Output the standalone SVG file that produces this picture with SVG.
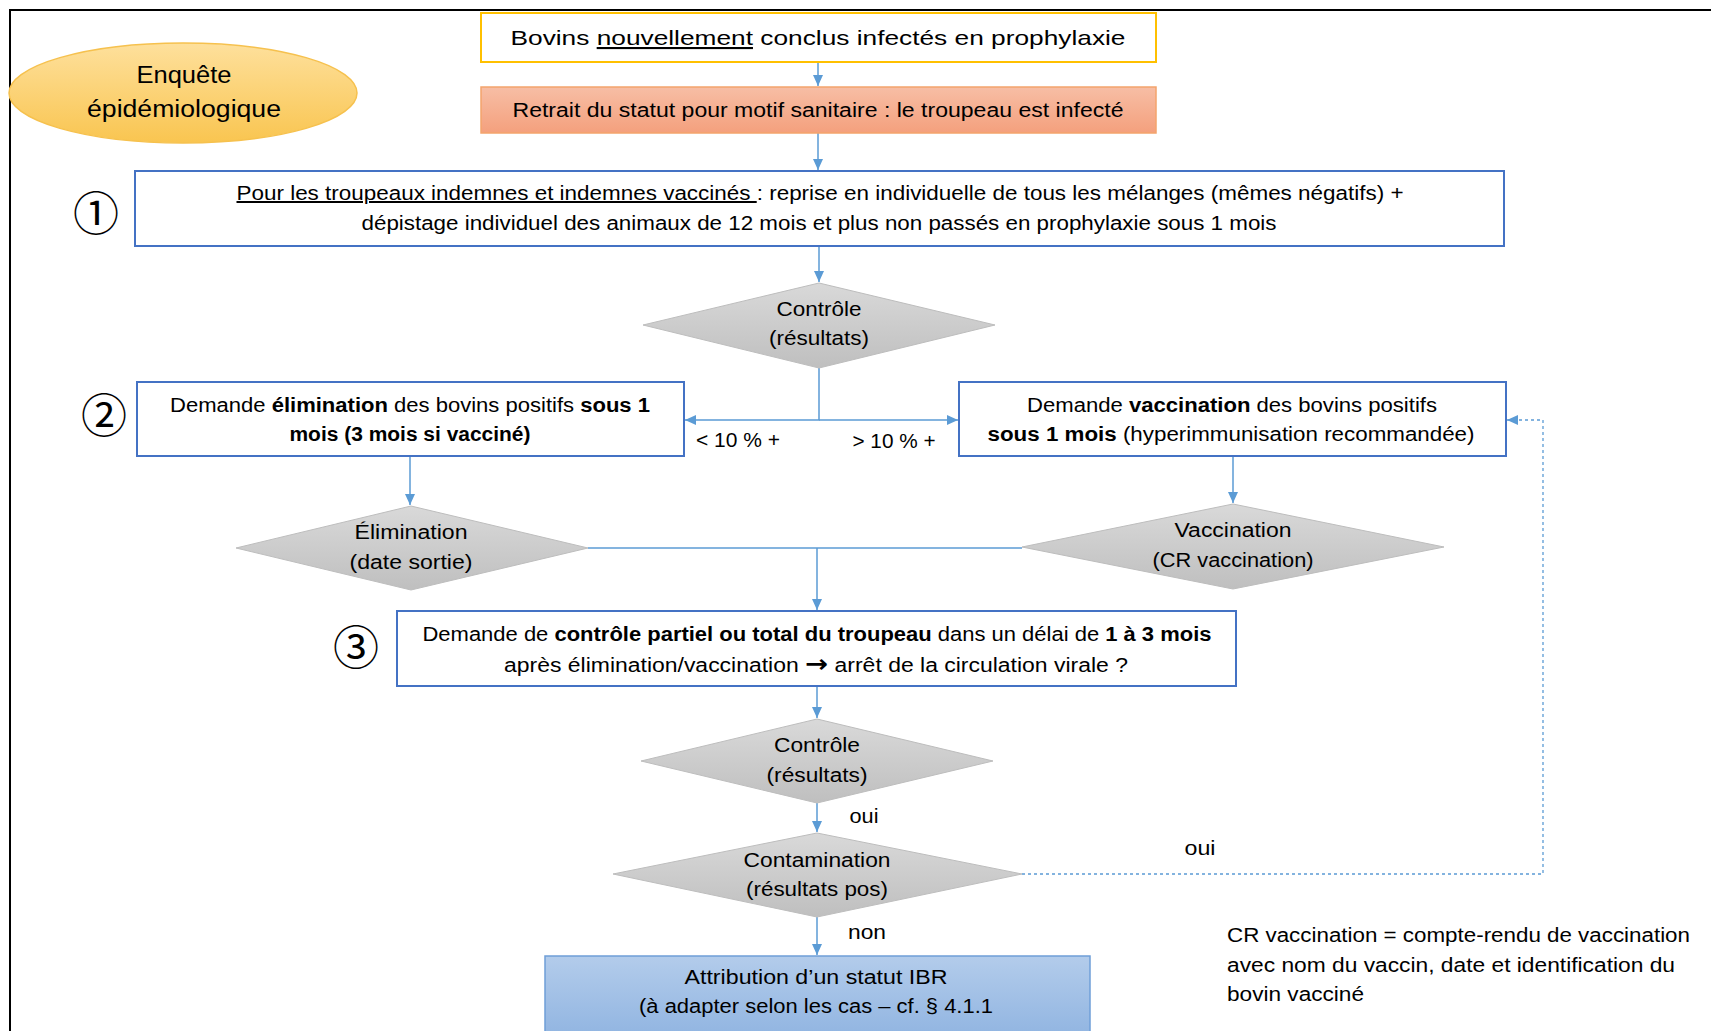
<svg xmlns="http://www.w3.org/2000/svg" width="1711" height="1031" viewBox="0 0 1711 1031">
<defs>
<style>
.t{font-family:"Liberation Sans",Arial,sans-serif;font-size:20px;fill:#000}
.b{font-weight:bold}
.u{text-decoration:underline}
.arw{font-family:"DejaVu Sans",sans-serif;font-weight:bold;font-size:24px}
.num{font-family:"Noto Sans CJK JP","DejaVu Sans",sans-serif;font-size:46px;fill:#000}
.blue{fill:#fff;stroke:#4472C4;stroke-width:2}
.dia{fill:url(#gGray);stroke:#BDBDBD;stroke-width:1}
.con{fill:none;stroke:#5B9BD5;stroke-width:1.5}
.dash{fill:none;stroke:#5B9BD5;stroke-width:1.3;stroke-dasharray:3 3}
</style>
<linearGradient id="gGray" x1="0" y1="0" x2="0" y2="1"><stop offset="0" stop-color="#D9D9D9"/><stop offset="1" stop-color="#BFBFBF"/></linearGradient>
<linearGradient id="gOrange" x1="0" y1="0" x2="0" y2="1"><stop offset="0" stop-color="#F7BEA5"/><stop offset="1" stop-color="#F4A07D"/></linearGradient>
<linearGradient id="gYellow" x1="0" y1="0" x2="0" y2="1"><stop offset="0" stop-color="#FEE09C"/><stop offset="1" stop-color="#F9C550"/></linearGradient>
<linearGradient id="gBlue" x1="0" y1="0" x2="0" y2="1"><stop offset="0" stop-color="#B3CCEB"/><stop offset="1" stop-color="#8DB2E0"/></linearGradient>
<marker id="arr" markerUnits="userSpaceOnUse" markerWidth="12" markerHeight="10" refX="11" refY="5" orient="auto"><path d="M0,0 L11,5 L0,10 z" fill="#5B9BD5"/></marker>
</defs>

<g id="frame"><path d="M10,1031 V10 H1711" fill="none" stroke="#000" stroke-width="2"/></g>

<g id="connectors">
<path class="con" d="M818,62 V86" marker-end="url(#arr)"/>
<path class="con" d="M818,133 V170" marker-end="url(#arr)"/>
<path class="con" d="M819,246 V282" marker-end="url(#arr)"/>
<path class="con" d="M819,368 V420 H685" marker-end="url(#arr)"/>
<path class="con" d="M819,420 H958" marker-end="url(#arr)"/>
<path class="con" d="M410,456 V505" marker-end="url(#arr)"/>
<path class="con" d="M1233,456 V503" marker-end="url(#arr)"/>
<path class="con" d="M588,548 H1022"/>
<path class="con" d="M817,548 V610" marker-end="url(#arr)"/>
<path class="con" d="M817,686 V718" marker-end="url(#arr)"/>
<path class="con" d="M817,803 V832" marker-end="url(#arr)"/>
<path class="con" d="M817,917 V955" marker-end="url(#arr)"/>
<path class="dash" d="M1022,874 H1543 V420 H1507" marker-end="url(#arr)"/>
<text class="t" x="738" y="447" textLength="84" lengthAdjust="spacingAndGlyphs" text-anchor="middle">&lt; 10 % +</text>
<text class="t" x="894" y="448" textLength="83" lengthAdjust="spacingAndGlyphs" text-anchor="middle">&gt; 10 % +</text>
<text class="t" x="864" y="823" textLength="29" lengthAdjust="spacingAndGlyphs" text-anchor="middle">oui</text>
<text class="t" x="1200" y="855" textLength="31" lengthAdjust="spacingAndGlyphs" text-anchor="middle">oui</text>
<text class="t" x="867" y="939" textLength="38" lengthAdjust="spacingAndGlyphs" text-anchor="middle">non</text>
</g>

<g id="enquete">
<ellipse cx="183" cy="93" rx="174" ry="50" fill="url(#gYellow)" stroke="#F6C14E" stroke-width="1.5"/>
<text class="t" x="184" y="83" style="font-size:23px" textLength="95" lengthAdjust="spacingAndGlyphs" text-anchor="middle">Enquête</text>
<text class="t" x="184" y="117" style="font-size:23px" textLength="194" lengthAdjust="spacingAndGlyphs" text-anchor="middle">épidémiologique</text>
</g>

<g id="bovins">
<rect x="481" y="13" width="675" height="49" fill="#fff" stroke="#FFC000" stroke-width="2"/>
<text class="t" x="818" y="45" style="font-size:21px" textLength="615" lengthAdjust="spacingAndGlyphs" text-anchor="middle">Bovins <tspan class="u">nouvellement</tspan> conclus infectés en prophylaxie</text>
</g>

<g id="retrait">
<rect x="481" y="87" width="675" height="46" fill="url(#gOrange)" stroke="#F4A46C" stroke-width="1.5"/>
<text class="t" x="818" y="117" textLength="611" lengthAdjust="spacingAndGlyphs" text-anchor="middle">Retrait du statut pour motif sanitaire : le troupeau est infecté</text>
</g>

<g id="etape1">
<text class="num" x="96" y="230" text-anchor="middle">①</text>
<rect class="blue" x="135" y="171" width="1369" height="75"/>
<text class="t" x="820" y="200" textLength="1167" lengthAdjust="spacingAndGlyphs" text-anchor="middle"><tspan class="u">Pour les troupeaux indemnes et indemnes vaccinés </tspan>: reprise en individuelle de tous les mélanges (mêmes négatifs) +</text>
<text class="t" x="819" y="230" textLength="915" lengthAdjust="spacingAndGlyphs" text-anchor="middle">dépistage individuel des animaux de 12 mois et plus non passés en prophylaxie sous 1 mois</text>
</g>

<g id="controle1">
<polygon class="dia" points="819,283 995,325 819,368 643,325"/>
<text class="t" x="819" y="316" textLength="85" lengthAdjust="spacingAndGlyphs" text-anchor="middle">Contrôle</text>
<text class="t" x="819" y="345" textLength="100" lengthAdjust="spacingAndGlyphs" text-anchor="middle">(résultats)</text>
</g>

<g id="etape2">
<text class="num" x="104" y="432" text-anchor="middle">②</text>
<rect class="blue" x="137" y="382" width="547" height="74"/>
<text class="t" x="410" y="412" textLength="480" lengthAdjust="spacingAndGlyphs" text-anchor="middle">Demande <tspan class="b">élimination</tspan> des bovins positifs <tspan class="b">sous 1</tspan></text>
<text class="t b" x="410" y="441" textLength="241" lengthAdjust="spacingAndGlyphs" text-anchor="middle">mois (3 mois si vacciné)</text>
</g>

<g id="vaccination-demande">
<rect class="blue" x="959" y="382" width="547" height="74"/>
<text class="t" x="1232" y="412" textLength="410" lengthAdjust="spacingAndGlyphs" text-anchor="middle">Demande <tspan class="b">vaccination</tspan> des bovins positifs</text>
<text class="t" x="1231" y="441" textLength="487" lengthAdjust="spacingAndGlyphs" text-anchor="middle"><tspan class="b">sous 1 mois</tspan> (hyperimmunisation recommandée)</text>
</g>

<g id="elimination">
<polygon class="dia" points="411,506 588,548 411,590 236,548"/>
<text class="t" x="411" y="539" textLength="113" lengthAdjust="spacingAndGlyphs" text-anchor="middle">Élimination</text>
<text class="t" x="411" y="569" textLength="123" lengthAdjust="spacingAndGlyphs" text-anchor="middle">(date sortie)</text>
</g>

<g id="vaccination">
<polygon class="dia" points="1233,504 1444,547 1233,589 1022,547"/>
<text class="t" x="1233" y="537" textLength="117" lengthAdjust="spacingAndGlyphs" text-anchor="middle">Vaccination</text>
<text class="t" x="1233" y="567" textLength="161" lengthAdjust="spacingAndGlyphs" text-anchor="middle">(CR vaccination)</text>
</g>

<g id="etape3">
<text class="num" x="356" y="664" text-anchor="middle">③</text>
<rect class="blue" x="397" y="611" width="839" height="75"/>
<text class="t" x="817" y="641" textLength="789" lengthAdjust="spacingAndGlyphs" text-anchor="middle">Demande de <tspan class="b">contrôle partiel ou total du troupeau</tspan> dans un délai de <tspan class="b">1 à 3 mois</tspan></text>
<text class="t" x="816" y="672" textLength="624" lengthAdjust="spacingAndGlyphs" text-anchor="middle">après élimination/vaccination <tspan class="arw">→</tspan> arrêt de la circulation virale ?</text>
</g>

<g id="controle2">
<polygon class="dia" points="817,719 993,761 817,803 641,761"/>
<text class="t" x="817" y="752" textLength="86" lengthAdjust="spacingAndGlyphs" text-anchor="middle">Contrôle</text>
<text class="t" x="817" y="782" textLength="101" lengthAdjust="spacingAndGlyphs" text-anchor="middle">(résultats)</text>
</g>

<g id="contamination">
<polygon class="dia" points="817,833 1022,874 817,917 613,874"/>
<text class="t" x="817" y="867" textLength="147" lengthAdjust="spacingAndGlyphs" text-anchor="middle">Contamination</text>
<text class="t" x="817" y="896" textLength="142" lengthAdjust="spacingAndGlyphs" text-anchor="middle">(résultats pos)</text>
</g>

<g id="attribution">
<rect x="545" y="956" width="545" height="90" fill="url(#gBlue)" stroke="#6F9FD8" stroke-width="1.5"/>
<text class="t" x="816" y="984" textLength="263" lengthAdjust="spacingAndGlyphs" text-anchor="middle">Attribution d’un statut IBR</text>
<text class="t" x="816" y="1013" textLength="354" lengthAdjust="spacingAndGlyphs" text-anchor="middle">(à adapter selon les cas – cf. § 4.1.1</text>
</g>

<g id="note">
<text class="t" x="1227" y="942" textLength="463" lengthAdjust="spacingAndGlyphs">CR vaccination = compte-rendu de vaccination</text>
<text class="t" x="1227" y="972" textLength="448" lengthAdjust="spacingAndGlyphs">avec nom du vaccin, date et identification du</text>
<text class="t" x="1227" y="1001" textLength="137" lengthAdjust="spacingAndGlyphs">bovin vacciné</text>
</g>
</svg>
